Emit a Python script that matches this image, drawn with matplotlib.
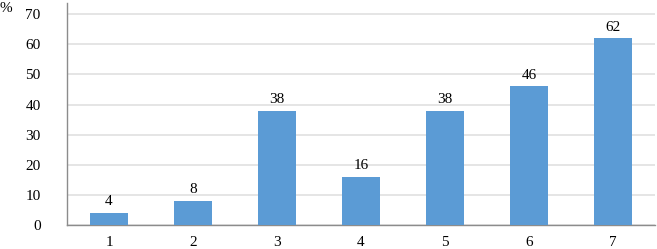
import matplotlib
matplotlib.use("Agg")
import matplotlib.pyplot as plt

categories = ["1", "2", "3", "4", "5", "6", "7"]
values = [4, 8, 38, 16, 38, 46, 62]
yticks = [0, 10, 20, 30, 40, 50, 60, 70]

plt.rcParams['font.family'] = ['Liberation Serif', 'DejaVu Serif']

fig = plt.figure(figsize=(6.57, 2.49), dpi=100)
ax = fig.add_axes([67/657, 24/249, 588/657, 222/249])

x = list(range(len(categories)))
bars = ax.bar(x, values, width=0.45, color="#5B9BD5", zorder=3)
for xi, v in zip(x, values):
    ax.text(xi, v + 1.5, str(v), ha="center", va="bottom", fontsize=11)

ax.set_xlim(-0.5, len(categories) - 0.5)
ax.set_ylim(0, 73.7)
ax.set_yticks(yticks)
ax.set_xticks(x)
ax.set_xticklabels(categories, fontsize=11)
ax.set_yticklabels([str(t) for t in yticks], fontsize=11)
ax.tick_params(axis="both", length=0)
ax.tick_params(axis="y", pad=19)
ax.tick_params(axis="x", pad=8)
ax.yaxis.grid(True, color="#E0E0E0", linewidth=1.2, zorder=0)
for s in ["top", "right"]:
    ax.spines[s].set_visible(False)
for s in ["left", "bottom"]:
    ax.spines[s].set_color("#8C8C8C")
    ax.spines[s].set_linewidth(1)

fig.text(0 / 657, 1 - 8 / 249, "%", fontsize=11, ha="left", va="center")

fig.savefig("out.png", dpi=100)
